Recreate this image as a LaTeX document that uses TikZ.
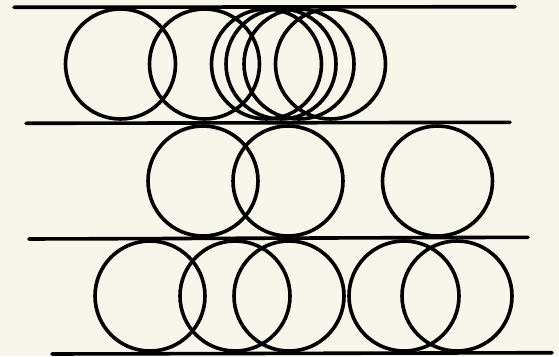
\documentclass[tikz,border=0pt]{standalone}
\usepackage{xcolor}
\usepackage{tikz}
\usetikzlibrary{positioning}
\definecolor{paper}{HTML}{F8F6EB}
\definecolor{ink}{HTML}{000000}
\tikzset{
    every picture/.style={line cap=round,line join=round},
    ring/.style={draw=ink,circle,line width=3.6pt,minimum size=110pt,
      inner sep=0pt,outer sep=0pt},
    rail/.style={draw=ink,line width=3.6pt,line cap=round}
}
\begin{document}
\begin{tikzpicture}[x=1pt,y=-1pt]
  \fill[paper] (0,0) rectangle (559,356);
  \useasboundingbox (0,0) rectangle (559,356);
  % rails
  \coordinate (l1) at (14,7.3);   \coordinate (r1) at (515,6.7);
  \coordinate (l2) at (26,123.3); \coordinate (r2) at (510,122.3);
  \coordinate (l3) at (29,239);   \coordinate (r3) at (528,237.3);
  \coordinate (l4) at (52,354);   \coordinate (r4) at (552,352.7);
  \foreach \k in {1,2,3,4}
    \draw[rail] (l\k) -- (r\k);
  % rings, one row between each pair of rails
  \foreach \x [count=\i] in {120.5,204.5,266.5,281,299,330.5}
    \node[ring] (a\i) at (\x,64) {};
  \foreach \x [count=\i] in {203,288,437.5}
    \node[ring] (b\i) at (\x,181) {};
  \foreach \x [count=\i] in {150,235,289,404,457}
    \node[ring] (c\i) at (\x,296) {};
\end{tikzpicture}
\end{document}
